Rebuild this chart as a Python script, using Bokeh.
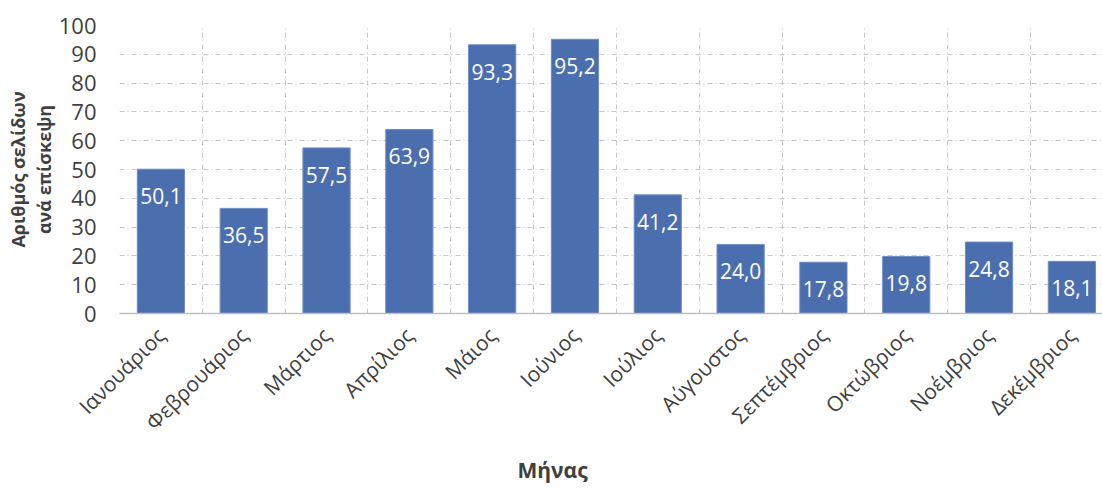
from math import pi
from bokeh.plotting import figure
from bokeh.models import ColumnDataSource, FixedTicker, Title
from bokeh.core.properties import value
from bokeh.embed import file_html
from bokeh.resources import INLINE

months = ["Ιανουάριος", "Φεβρουάριος", "Μάρτιος", "Απρίλιος", "Μάιος", "Ιούνιος",
          "Ιούλιος", "Αύγουστος", "Σεπτέμβριος", "Οκτώβριος", "Νοέμβριος", "Δεκέμβριος"]
values = [50.1, 36.5, 57.5, 63.9, 93.3, 95.2, 41.2, 24.0, 17.8, 19.8, 24.8, 18.1]
y_ticks = list(range(0, 101, 10))
y_title_lines = ["Αριθμός σελίδων", "ανά επίσκεψη"]
x_title = "Μήνας"

FONT = "Open Sans"
XMAX = 11.87
xs = [i + 0.5 for i in range(len(months))]
labels = [f"{v:.1f}".replace(".", ",") for v in values]
src = ColumnDataSource(dict(x=xs, top=values, label=labels))

W, H = 1102, 488
LEFT, TOP, BOTTOM = 119, 25, 175
p = figure(width=W, height=H, x_range=(0, XMAX), y_range=(0, 100),
           output_backend="svg", toolbar_location=None,
           min_border_left=LEFT, min_border_right=0, min_border_top=TOP,
           min_border_bottom=BOTTOM)
p.outline_line_color = None
p.background_fill_color = "white"

p.vbar(x="x", top="top", width=0.57, bottom=0, source=src,
       fill_color="#4b6eaf", line_color="#6f8cc4", line_width=1)
p.text(x="x", y="top", text="label", source=src, text_align="center",
       text_baseline="middle", y_offset=27, text_color="white",
       text_font=value(FONT), text_font_size="21px")

# grids
p.xgrid.ticker = FixedTicker(ticks=list(range(len(months))))
p.ygrid.ticker = FixedTicker(ticks=y_ticks)
for g in (p.xgrid, p.ygrid):
    g.grid_line_color = "#c8c8c8"
    g.grid_line_dash = "5 3 1 3"
    g.grid_line_width = 1

# y axis
p.yaxis.ticker = FixedTicker(ticks=y_ticks)
p.yaxis.axis_line_color = None
p.yaxis.major_tick_line_color = None
p.yaxis.minor_tick_line_color = None
p.yaxis.major_label_standoff = 17
p.yaxis.major_label_text_font = FONT
p.yaxis.major_label_text_font_size = "22px"
p.yaxis.major_label_text_color = "#404040"

# x axis
p.xaxis.ticker = FixedTicker(ticks=xs)
p.xaxis.major_label_overrides = {x: m for x, m in zip(xs, months)}
p.xaxis.major_label_orientation = pi / 4
p.xaxis.axis_line_color = "#bfbfbf"
p.xaxis.axis_line_width = 1.5
p.xaxis.major_tick_line_color = None
p.xaxis.minor_tick_line_color = None
p.xaxis.major_label_standoff = 12
p.xaxis.major_label_text_font = FONT
p.xaxis.major_label_text_font_size = "21px"
p.xaxis.major_label_text_color = "#404040"

# axis titles (inner line first)
for line in reversed(y_title_lines):
    p.add_layout(Title(text=line, align="center", text_font=FONT,
                       text_font_size="18px", text_font_style="bold",
                       text_color="#404040", standoff=0), "left")

p.add_layout(Title(text=x_title, align="left", offset=398, text_font=FONT,
                   text_font_size="21px", text_font_style="bold",
                   text_color="#404040", standoff=10), "below")

open("out.html", "w").write(file_html(p, INLINE))
